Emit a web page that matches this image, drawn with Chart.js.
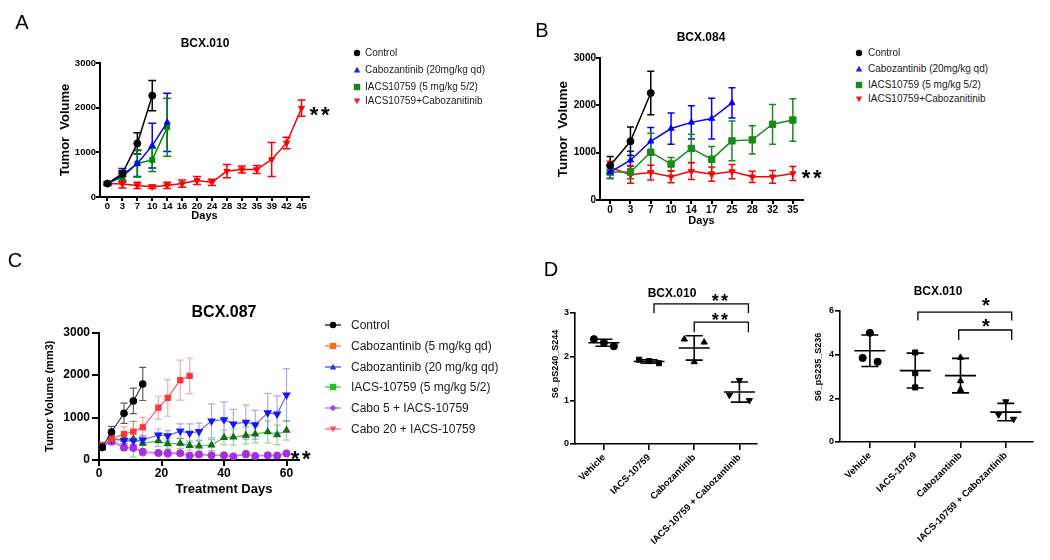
<!DOCTYPE html>
<html><head><meta charset="utf-8">
<script src="https://cdn.jsdelivr.net/npm/chart.js@4.4.1/dist/chart.umd.min.js"></script>
<style>
html,body{margin:0;padding:0;background:#fff}
body{position:relative;width:1050px;height:560px;overflow:hidden;font-family:"Liberation Sans",Arial,Helvetica,sans-serif;color:#000}
canvas{position:absolute;display:block}
.txt{position:absolute;white-space:nowrap;line-height:1}
.lg{position:absolute;display:flex;align-items:center;white-space:nowrap;transform:translateY(-50%);line-height:1;color:#1a1a1a}
.lg svg{flex:none;display:block}
</style></head>
<body>
<canvas id="cA" width="345" height="235" style="left:0;top:0"></canvas>
<canvas id="cB" width="320" height="240" style="left:500px;top:0"></canvas>
<canvas id="cC" width="320" height="220" style="left:0;top:280px"></canvas>
<canvas id="cD1" width="260" height="280" style="left:520px;top:280px"></canvas>
<canvas id="cD2" width="270" height="280" style="left:780px;top:280px"></canvas>
<script>
// ================= DATA =================
// Panel A : BCX.010 tumor volume
const A_title = 'BCX.010';
const A_days = ['0','3','7','10','14','16','20','24','28','32','35','39','42','45'];
const A_names = ['Control','Cabozantinib (20mg/kg qd)','IACS10759 (5 mg/kg 5/2)','IACS10759+Cabozanitinib'];
const A_control    = [300, 525, 1200, 2270];
const A_controlErr = [30, 60, 240, 340];
const A_cabo       = [300, 490, 750, 1150, 1670];
const A_caboErr    = [30, 150, 290, 500, 650];
const A_iacs       = [300, 450, 750, 830, 1560];
const A_iacsErr    = [30, 100, 300, 260, 650];
const A_combo      = [300, 290, 260, 230, 260, 300, 370, 330, 580, 615, 615, 840, 1210, 1990];
const A_comboErr   = [40, 90, 70, 40, 70, 80, 90, 70, 150, 80, 90, 380, 130, 180];
const A_yTicks = [0, 1000, 2000, 3000];

// Panel B : BCX.084 tumor volume
const B_title = 'BCX.084';
const B_days = ['0','3','7','10','14','17','25','28','32','35'];
const B_names = ['Control','Cabozantinib (20mg/kg qd)','IACS10759 (5 mg/kg 5/2)','IACS10759+Cabozanitinib'];
const B_control    = [730, 1240, 2260];
const B_controlErr = [190, 300, 460];
const B_cabo       = [590, 840, 1240, 1510, 1640, 1720, 2050];
const B_caboErr    = [130, 190, 290, 330, 350, 430, 320];
const B_iacs       = [590, 590, 1010, 760, 1090, 860, 1250, 1270, 1600, 1690];
const B_iacsErr    = [140, 140, 400, 140, 300, 270, 420, 300, 420, 450];
const B_combo      = [690, 535, 580, 490, 610, 545, 600, 490, 490, 560];
const B_comboErr   = [130, 180, 155, 125, 175, 150, 150, 120, 135, 150];

// Panel C : BCX.087 tumor volume
const C_title = 'BCX.087';
const C_days = [1, 4, 8, 11, 14, 19, 22, 26, 29, 32, 36, 40, 43, 47, 50, 54, 57, 60];
const C_names = ['Control','Cabozantinib (5 mg/kg qd)','Cabozantinib (20 mg/kg qd)','IACS-10759 (5 mg/kg 5/2)','Cabo 5 + IACS-10759','Cabo 20 + IACS-10759'];
const C_control       = [300, 660, 1100, 1390, 1790];
const C_controlErr    = [50, 130, 240, 300, 390];
const C_cabo5         = [320, 500, 610, 670, 770, 1230, 1460, 1880, 1980];
const C_cabo5Err      = [50, 80, 170, 240, 230, 270, 430, 470, 420];
const C_cabo20        = [300, 490, 460, 450, 470, 590, 570, 680, 630, 670, 920, 950, 850, 890, 830, 1110, 1080, 1530];
const C_cabo20Err     = [50, 90, 70, 90, 110, 140, 120, 170, 220, 200, 400, 420, 340, 400, 340, 460, 430, 620];
const C_iacs          = [280, 490, 490, 490, 390, 450, 380, 390, 340, 330, 350, 530, 540, 580, 610, 660, 590, 700];
const C_iacsErr       = [40, 90, 100, 420, 150, 130, 120, 120, 110, 120, 130, 170, 190, 200, 200, 260, 230, 230];
const C_cabo5Iacs     = [330, 430, 290, 280, 200, 170, 170, 160, 100, 130, 110, 110, 80, 130, 90, 110, 100, 150];
const C_cabo5IacsErr  = [50, 60, 60, 50, 40, 40, 30, 30, 20, 30, 20, 20, 20, 30, 20, 20, 20, 40];
const C_cabo20Iacs    = [340, 470, 300, 290, 170, 160, 140, 160, 110, 130, 110, 110, 90, 150, 100, 110, 110, 160];
const C_cabo20IacsErr = [60, 70, 60, 60, 40, 40, 30, 40, 30, 30, 20, 20, 20, 30, 20, 20, 30, 50];

// Panel D : BCX.010 phospho-S6
const D_groups = ['Vehicle','IACS-10759','Cabozantinib','IACS-10759 + Cabozantinib'];
const D1_title = 'BCX.010';
const D1_yLabel = 'S6_pS240_S244';
const D1_points = [[2.40, 2.32, 2.24], [1.93, 1.90, 1.85], [2.40, 1.88, 2.33], [1.12, 1.46, 1.00]];
const D1_mean = [2.32, 1.89, 2.20, 1.19];
const D1_sd   = [0.08, 0.04, 0.28, 0.23];
const D1_sig  = [{from: 1, to: 3, label: '**'}, {from: 2, to: 3, label: '**'}];
const D2_title = 'BCX.010';
const D2_yLabel = 'S6_pS235_S236';
const D2_points = [[3.85, 5.00, 3.67], [4.10, 3.15, 2.50], [3.87, 2.80, 2.40], [1.25, 1.85, 1.05]];
const D2_mean = [4.18, 3.27, 3.04, 1.37];
const D2_sd   = [0.72, 0.80, 0.79, 0.40];
const D2_sig  = [{from: 1, to: 3, label: '*'}, {from: 2, to: 3, label: '*'}];

// ================= STYLE / HELPERS =================
const FONT = '"Liberation Sans", Arial, Helvetica, sans-serif';
Chart.defaults.font.family = FONT;
Chart.defaults.color = '#000';
const plain = (v) => String(v);

const errPlugin = {
  id: 'errbars',
  beforeDatasetsDraw(chart) {
    const ctx = chart.ctx, ys = chart.scales.y;
    chart.data.datasets.forEach((ds, i) => {
      if (!ds.err) return;
      const meta = chart.getDatasetMeta(i);
      ctx.save();
      ctx.strokeStyle = ds.errColor || ds.borderColor;
      ctx.lineWidth = ds.errWidth || 1.5;
      meta.data.forEach((pt, j) => {
        const d = ds.data[j];
        const v = (d !== null && typeof d === 'object') ? d.y : d;
        const e = ds.err[j];
        if (v == null || e == null) return;
        const x = pt.x, yt = ys.getPixelForValue(v + e), yb = ys.getPixelForValue(v - e);
        const c = ds.capHalf || 4;
        ctx.beginPath();
        ctx.moveTo(x, yt); ctx.lineTo(x, yb);
        ctx.moveTo(x - c, yt); ctx.lineTo(x + c, yt);
        ctx.moveTo(x - c, yb); ctx.lineTo(x + c, yb);
        ctx.stroke();
      });
      ctx.restore();
    });
  }
};

function summaryPlugin(means, sds, brackets, st) {
  return {
    id: 'summary',
    afterDatasetsDraw(chart) {
      const ctx = chart.ctx, xs = chart.scales.x, ys = chart.scales.y;
      ctx.save();
      ctx.strokeStyle = '#000';
      ctx.lineWidth = 1.6;
      means.forEach((m, g) => {
        const cx = xs.getPixelForValue(g);
        const ym = ys.getPixelForValue(m);
        const yt = ys.getPixelForValue(m + sds[g]);
        const yb = ys.getPixelForValue(m - sds[g]);
        ctx.beginPath();
        ctx.moveTo(cx - st.meanHalf, ym); ctx.lineTo(cx + st.meanHalf, ym);
        ctx.moveTo(cx, yt); ctx.lineTo(cx, yb);
        ctx.moveTo(cx - st.capHalf, yt); ctx.lineTo(cx + st.capHalf, yt);
        ctx.moveTo(cx - st.capHalf, yb); ctx.lineTo(cx + st.capHalf, yb);
        ctx.stroke();
      });
      ctx.lineWidth = 1.3;
      brackets.forEach((b, k) => {
        const geo = st.bracketGeo[k];
        const x1 = xs.getPixelForValue(b.from + geo.dx1);
        const x2 = xs.getPixelForValue(b.to + geo.dx2);
        const yb = ys.getPixelForValue(geo.y), yt = ys.getPixelForValue(geo.tip);
        ctx.beginPath();
        ctx.moveTo(x1, yt); ctx.lineTo(x1, yb); ctx.lineTo(x2, yb); ctx.lineTo(x2, yt);
        ctx.stroke();
      });
      ctx.restore();
    }
  };
}

function lineDS(label, values, err, color, style, extra) {
  return Object.assign({
    label, data: values, err,
    borderColor: color, backgroundColor: color,
    pointBackgroundColor: color, pointBorderColor: color,
    pointStyle: style, pointRadius: 3.5, pointBorderWidth: 1,
    borderWidth: 1.5, tension: 0, errColor: color, capHalf: 4
  }, extra || {});
}

function xyData(days, values) {
  return values.map((v, k) => ({x: days[k], y: v}));
}

function axisCommon(tickLen, axisW) {
  return {
    grid: {drawOnChartArea: false, drawTicks: true, tickLength: tickLen, color: '#000', lineWidth: axisW},
    border: {display: true, color: '#000', width: axisW}
  };
}

const baseOpts = {
  responsive: false, animation: false, devicePixelRatio: 1,
  events: [],
  plugins: {legend: {display: false}, tooltip: {enabled: false}, title: {display: false}}
};

// ---------- Panel A ----------
new Chart(document.getElementById('cA'), {
  type: 'line',
  data: {labels: A_days, datasets: [
    lineDS(A_names[0], A_control, A_controlErr, '#000000', 'circle'),
    lineDS(A_names[1], A_cabo, A_caboErr, '#0000ff', 'triangle'),
    lineDS(A_names[2], A_iacs, A_iacsErr, '#008a00', 'rect'),
    lineDS(A_names[3], A_combo, A_comboErr, '#ff0000', 'triangle', {pointRotation: 180})
  ]},
  options: Object.assign({}, baseOpts, {
    layout: {padding: {top: 63, right: 36, bottom: 0, left: 0}},
    scales: {
      x: Object.assign(axisCommon(4, 2), {
        offset: true,
        ticks: {font: {size: 9.5, weight: 'bold'}, color: '#000', padding: 0, maxRotation: 0, autoSkip: false},
        title: {display: true, text: 'Days', font: {size: 11, weight: 'bold'}, color: '#000', padding: {top: 0, bottom: 12.4}},
        afterFit(s) { s.height = 38; }
      }),
      y: Object.assign(axisCommon(4, 2), {
        min: 0, max: 3000,
        afterBuildTicks(s) { s.ticks = A_yTicks.map(v => ({value: v})); },
        ticks: {font: {size: 9.5, weight: 'bold'}, color: '#000', padding: 0, callback: plain},
        title: {display: true, text: 'Tumor  Volume', font: {size: 13, weight: 'bold'}, color: '#000', padding: {top: 57.2, bottom: 0}},
        afterFit(s) { s.width = 100; }
      })
    }
  }),
  plugins: [errPlugin]
});

// ---------- Panel B ----------
new Chart(document.getElementById('cB'), {
  type: 'line',
  data: {labels: B_days, datasets: [
    lineDS(B_names[0], B_control, B_controlErr, '#000000', 'circle', {capHalf: 3.5}),
    lineDS(B_names[1], B_cabo, B_caboErr, '#0000ff', 'triangle', {capHalf: 3.5}),
    lineDS(B_names[2], B_iacs, B_iacsErr, '#1a8a1a', 'rect', {capHalf: 3.5, pointRadius: 4.5}),
    lineDS(B_names[3], B_combo, B_comboErr, '#ff0000', 'triangle', {pointRotation: 180, capHalf: 3.5})
  ]},
  options: Object.assign({}, baseOpts, {
    layout: {padding: {top: 58, right: 17, bottom: 0, left: 0}},
    scales: {
      x: Object.assign(axisCommon(4, 2), {
        offset: true,
        ticks: {font: {size: 10, weight: 'bold'}, color: '#000', padding: 0, maxRotation: 0, autoSkip: false},
        title: {display: true, text: 'Days', font: {size: 11, weight: 'bold'}, color: '#000', padding: {top: 0, bottom: 12.4}},
        afterFit(s) { s.height = 40; }
      }),
      y: Object.assign(axisCommon(4, 2), {
        min: 0, max: 3000,
        afterBuildTicks(s) { s.ticks = A_yTicks.map(v => ({value: v})); },
        ticks: {font: {size: 10, weight: 'bold'}, color: '#000', padding: 0, callback: plain},
        title: {display: true, text: 'Tumor  Volume', font: {size: 13.5, weight: 'bold'}, color: '#000', padding: {top: 54.9, bottom: 0}},
        afterFit(s) { s.width = 100; }
      })
    }
  }),
  plugins: [errPlugin]
});

// ---------- Panel C ----------
function cDS(label, values, err, marker, line, errc, style, extra) {
  return Object.assign({
    label, data: xyData(C_days, values), err,
    borderColor: line, backgroundColor: marker,
    pointBackgroundColor: marker, pointBorderColor: marker,
    pointStyle: style, pointRadius: 3.2, borderWidth: 1.2, tension: 0,
    errColor: errc, errWidth: 1.2, capHalf: 3.5
  }, extra || {});
}
new Chart(document.getElementById('cC'), {
  type: 'line',
  data: {datasets: [
    cDS(C_names[0], C_control, C_controlErr, '#000000', '#333333', 'rgba(40,40,40,0.75)', 'circle'),
    cDS(C_names[1], C_cabo5, C_cabo5Err, '#ff3434', '#ff6060', 'rgba(255,90,90,0.55)', 'rect', {pointRadius: 3.6}),
    cDS(C_names[2], C_cabo20, C_cabo20Err, '#1414ff', '#6a6aff', 'rgba(80,80,255,0.5)', 'triangle', {pointRotation: 180, pointRadius: 3.8}),
    cDS(C_names[3], C_iacs, C_iacsErr, '#126e12', '#55bb55', 'rgba(70,170,70,0.55)', 'triangle', {pointRadius: 3.6}),
    cDS(C_names[4], C_cabo5Iacs, C_cabo5IacsErr, '#a42ee6', '#c477f0', 'rgba(170,70,230,0.5)', 'circle'),
    cDS(C_names[5], C_cabo20Iacs, C_cabo20IacsErr, '#f03ca8', '#ff78b8', 'rgba(255,100,170,0.5)', 'circle')
  ]},
  options: Object.assign({}, baseOpts, {
    layout: {padding: {top: 52.5, right: 21, bottom: 0, left: 0}},
    scales: {
      x: Object.assign(axisCommon(6, 2), {
        type: 'linear', min: 0, max: 64,
        ticks: {stepSize: 20, includeBounds: false, font: {size: 12, weight: 'bold'}, color: '#000', padding: 0, maxRotation: 0, callback: plain},
        afterFit(s) { s.height = 40; }
      }),
      y: Object.assign(axisCommon(7, 2), {
        min: 0, max: 3000,
        ticks: {stepSize: 1000, font: {size: 12, weight: 'bold'}, color: '#000', padding: 2, callback: plain},
        title: {display: true, text: 'Tumor Volume (mm3)', font: {size: 11, weight: 'bold'}, color: '#000', padding: {top: 43.4, bottom: 0}},
        afterFit(s) { s.width = 99; }
      })
    }
  }),
  plugins: [errPlugin]
});

// ---------- Panel D ----------
const D_styles = ['circle', 'rect', 'triangle', 'triangle'];
const D_rot = [0, 0, 0, 180];
function dChart(id, points, spread, means, sds, sig, geo, yMax, yStep, xMin, xMax, padTop, padRight, yW, xH) {
  const datasets = points.map((vals, g) => ({
    label: D_groups[g],
    data: vals.map((v, k) => ({x: g + spread[g][k], y: v})),
    pointStyle: D_styles[g], pointRotation: D_rot[g], pointRadius: 3.6,
    pointBackgroundColor: '#000', pointBorderColor: '#000', backgroundColor: '#000', borderColor: '#000', showLine: false
  }));
  new Chart(document.getElementById(id), {
    type: 'scatter',
    data: {datasets},
    options: Object.assign({}, baseOpts, {
      layout: {padding: {top: padTop, right: padRight, bottom: 0, left: 0}},
      scales: {
        x: Object.assign(axisCommon(6, 1.6), {
          type: 'linear', min: xMin, max: xMax,
          afterBuildTicks(s) { s.ticks = D_groups.map((_, i) => ({value: i})); },
          ticks: {autoSkip: false, minRotation: 45, maxRotation: 45, font: {size: 9.5, weight: 'bold'}, color: '#000', padding: 2,
                  callback: (v) => D_groups[v] !== undefined ? D_groups[v] : ''},
          afterFit(s) { s.height = xH; }
        }),
        y: Object.assign(axisCommon(5, 1.6), {
          min: 0, max: yMax,
          ticks: {stepSize: yStep, font: {size: 9, weight: 'bold'}, color: '#000', padding: 1, callback: plain},
          afterFit(s) { s.width = yW; }
        })
      }
    }),
    plugins: [summaryPlugin(means, sds, sig, {meanHalf: 15.5, capHalf: 8.5, bracketGeo: geo})]
  });
}
dChart('cD1', D1_points,
  [[-0.22, 0, 0.22], [-0.22, 0, 0.22], [-0.22, 0, 0.22], [-0.22, 0, 0.22]],
  D1_mean, D1_sd, D1_sig,
  [{dx1: 0.11, dx2: 0.2, y: 3.21, tip: 3.0}, {dx1: 0, dx2: 0.2, y: 2.79, tip: 2.56}],
  3, 1, -0.64, 3.39, 33, 23, 55, 116);
dChart('cD2', D2_points,
  [[-0.16, 0, 0.17], [0, 0, 0], [0, 0, 0], [-0.16, 0, 0.17]],
  D2_mean, D2_sd, D2_sig,
  [{dx1: 0.06, dx2: 0.13, y: 5.95, tip: 5.56}, {dx1: -0.04, dx2: 0.13, y: 5.13, tip: 4.67}],
  6, 2, -0.66, 3.6, 31, 17, 60, 118);

// ================= TEXT (titles, letters, stars, legends) =================
function addText(t, x, y, size, weight, rot) {
  const d = document.createElement('div');
  d.className = 'txt';
  d.textContent = t;
  d.style.left = x + 'px';
  d.style.top = y + 'px';
  d.style.fontSize = size + 'px';
  d.style.fontWeight = weight;
  d.style.transform = 'translate(-50%,-50%)' + (rot ? ' rotate(' + rot + 'deg)' : '');
  document.body.appendChild(d);
  return d;
}
addText('A', 22, 22, 20, 400);
addText('B', 542, 30, 20, 400);
addText('C', 15, 260, 20, 400);
addText('D', 551, 269, 20, 400);
addText(A_title, 205, 43, 12, 700);
addText(B_title, 701, 37, 12, 700);
addText(C_title, 224, 312, 16, 700);
addText(D1_title, 672, 293, 12, 700);
addText(D2_title, 938, 291, 12, 700);
addText('Treatment Days', 224, 488, 13, 700);
addText(D1_yLabel, 555, 364, 9, 700, -90);
addText(D2_yLabel, 818, 367, 9, 700, -90);

function addStar(t, x, y, size) {
  const d = addText(t, x, y + size * 0.22, size, 700);
  d.style.letterSpacing = (size * 0.12) + 'px';
}
addStar('**', 321, 110, 22);
addStar('**', 813, 173, 22);
addStar('**', 302, 454, 22);
addStar(D1_sig[0].label, 721, 297, 18);
addStar(D1_sig[1].label, 721, 316, 18);
addStar(D2_sig[0].label, 987, 301, 20);
addStar(D2_sig[1].label, 987, 322, 20);

function svgMarker(shape, color, r, w, h, lineColor) {
  const cx = w / 2, cy = h / 2;
  let m = '';
  if (lineColor) m += `<line x1="0" y1="${cy}" x2="${w}" y2="${cy}" stroke="${lineColor}" stroke-width="1.5"/>`;
  if (shape === 'circle') m += `<circle cx="${cx}" cy="${cy}" r="${r}" fill="${color}"/>`;
  else if (shape === 'square') m += `<rect x="${cx - r}" y="${cy - r}" width="${2 * r}" height="${2 * r}" fill="${color}"/>`;
  else if (shape === 'tri') m += `<polygon points="${cx},${cy - r} ${cx + r},${cy + r * 0.75} ${cx - r},${cy + r * 0.75}" fill="${color}"/>`;
  else if (shape === 'tridown') m += `<polygon points="${cx},${cy + r} ${cx + r},${cy - r * 0.75} ${cx - r},${cy - r * 0.75}" fill="${color}"/>`;
  else if (shape === 'diamond') m += `<polygon points="${cx},${cy - r} ${cx + r},${cy} ${cx},${cy + r} ${cx - r},${cy}" fill="${color}"/>`;
  return `<svg width="${w}" height="${h}" viewBox="0 0 ${w} ${h}">${m}</svg>`;
}
function addLegend(left, ys, names, marks, o) {
  names.forEach((n, k) => {
    const row = document.createElement('div');
    row.className = 'lg';
    row.style.left = left + 'px';
    row.style.top = ys[k] + 'px';
    row.style.fontSize = o.size + 'px';
    const mk = marks[k];
    row.innerHTML = svgMarker(mk[0], mk[1], o.r, o.w, o.h, o.line ? mk[2] : null) +
      `<span style="margin-left:${o.gap}px"></span>`;
    row.lastChild.textContent = n;
    document.body.appendChild(row);
  });
}
const AB_marks = [['circle', '#000'], ['tri', '#1a1aff'], ['square', '#138a13'], ['tridown', '#ff1a1a']];
addLegend(353, [53.3, 70, 87, 100.5], A_names, AB_marks, {size: 10, r: 3.2, w: 8, h: 8, gap: 4});
addLegend(855, [52.7, 68.7, 85.3, 98.7], B_names, AB_marks, {size: 10, r: 3.2, w: 8, h: 8, gap: 5});
addLegend(325, [325, 345.5, 366.5, 387, 408, 428.5], C_names, [
  ['circle', '#000', '#333'],
  ['square', '#ff6a1a', '#ff8a50'],
  ['tri', '#2030ff', '#5a66ff'],
  ['square', '#22c422', '#55d055'],
  ['diamond', '#a83ae8', '#c07af0'],
  ['tridown', '#ff4f5a', '#ff7f88']
], {size: 12, r: 3.2, w: 16, h: 10, gap: 10, line: true});
</script>
</body></html>
